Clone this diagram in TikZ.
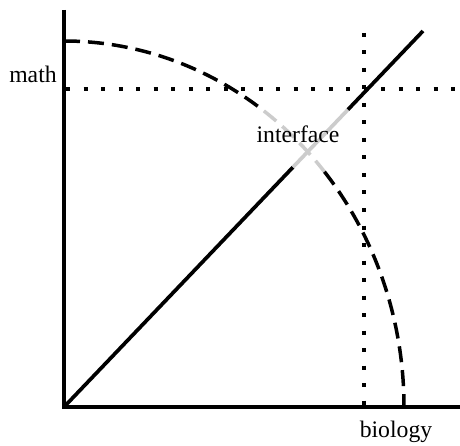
\documentclass[tikz,border=0pt]{standalone}
\usepackage{fontspec}
\setmainfont{Liberation Serif}
\usetikzlibrary{calc}

\begin{document}
\begin{tikzpicture}[
    x=1pt, y=1pt,
    axis/.style={draw, line width=4.3pt},
    diag/.style={draw, line width=3.7pt},
    arcline/.style={draw, line width=3.5pt, dash pattern=on 16pt off 8pt},
    guide/.style={draw, line width=4pt, dash pattern=on 4pt off 13.5pt},
    label/.style={font=\fontsize{23.7}{26}\selectfont, inner sep=0pt}
]

\useasboundingbox (0,0) rectangle (460,445);

% Origin and axis ends
\coordinate (O) at (64,38);
\coordinate (Ytop) at (64,435);
\coordinate (Xend) at (460,38);
\coordinate (Dtop) at (423,414);

% Guide lines
\coordinate (Hs) at (66,356);
\coordinate (He) at (460,356);
\coordinate (Vs) at (364,412);
\coordinate (Ve) at (364,38);
\path[guide] (Hs) -- (He);
\path[guide] (Vs) -- (Ve);

% Quarter ellipse, grey where it meets the diagonal
\path[arcline] ($(O)+(90:340pt and 366pt)$) arc[start angle=90, end angle=54, x radius=340pt, y radius=366pt];
\path[arcline, gray!40] ($(O)+(54:340pt and 366pt)$) arc[start angle=54, end angle=40, x radius=340pt, y radius=366pt];
\path[arcline] ($(O)+(40:340pt and 366pt)$) arc[start angle=40, end angle=0, x radius=340pt, y radius=366pt];

% Diagonal
\path[diag] (O) -- ($(O)!0.638!(Dtop)$);
\path[diag, gray!40] ($(O)!0.638!(Dtop)$) -- ($(O)!0.791!(Dtop)$);
\path[diag] ($(O)!0.791!(Dtop)$) -- (Dtop);

% Axes
\path[axis] (Ytop) -- (O) -- (Xend);

% Labels
\node[label] (math) at (33,371) {math};
\node[label] (interface) at (298,311) {interface};
\node[label] (biology) at (396,13) {biology};

\end{tikzpicture}
\end{document}
